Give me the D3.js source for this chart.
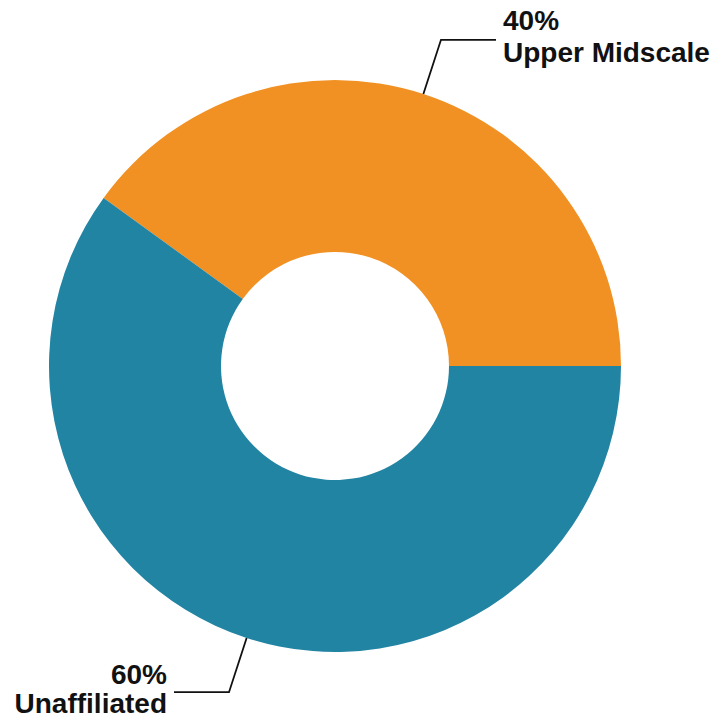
<!DOCTYPE html>
<html>
<head>
<meta charset="utf-8">
<script src="https://cdn.jsdelivr.net/npm/d3@7"></script>
<style>
  html, body { margin: 0; padding: 0; background: #fff; }
  svg { display: block; }
  text { font-family: "Liberation Sans", Arial, sans-serif; font-weight: bold; fill: #111; }
</style>
</head>
<body>
<svg id="chart" width="715" height="723"></svg>
<script>
// Segments and their shares
const categories = ["Upper Midscale", "Unaffiliated"];
const shares = [40, 60];
const shareLabels = ["40%", "60%"];
const colors = ["#F29123", "#2284A3"];

const width = 715, height = 723;
const cx = 335, cy = 366;
const outerR = 286, innerR = 114;
const elbowR = 343, tail = 55;

const svg = d3.select("#chart");
const g = svg.append("g").attr("transform", `translate(${cx},${cy})`);

const pie = d3.pie()
  .sort(null)
  .value(d => d.value)
  .startAngle(-0.3 * Math.PI)
  .endAngle(1.7 * Math.PI);

const data = categories.map((c, i) => ({ name: c, value: shares[i], label: shareLabels[i], color: colors[i] }));
const arcs = pie(data);

const arc = d3.arc().innerRadius(innerR).outerRadius(outerR);

g.selectAll("path.slice")
  .data(arcs)
  .join("path")
  .attr("class", "slice")
  .attr("d", arc)
  .attr("fill", d => d.data.color);

// Leader lines: radial segment out of the ring, then a horizontal tail
arcs.forEach(a => {
  const mid = (a.startAngle + a.endAngle) / 2;
  const sx = outerR * Math.sin(mid), sy = -outerR * Math.cos(mid);
  const ex = elbowR * Math.sin(mid), ey = -elbowR * Math.cos(mid);
  const right = Math.sin(mid) > 0;
  const tx = ex + (right ? tail : -tail);
  g.append("polyline")
    .attr("points", `${sx},${sy} ${ex},${ey} ${tx},${ey}`)
    .attr("fill", "none")
    .attr("stroke", "#111")
    .attr("stroke-width", 1.8);

  const lx = tx + (right ? 7 : -7);
  const anchor = right ? "start" : "end";
  const t = g.append("text")
    .attr("text-anchor", anchor)
    .style("font-size", "28px");
  const y1 = right ? ey - 10 : ey - 8;
  t.append("tspan").attr("x", lx).attr("y", y1).text(a.data.label);
  t.append("tspan").attr("x", lx).attr("y", y1 + (right ? 32 : 29)).text(a.data.name);
});
</script>
</body>
</html>
